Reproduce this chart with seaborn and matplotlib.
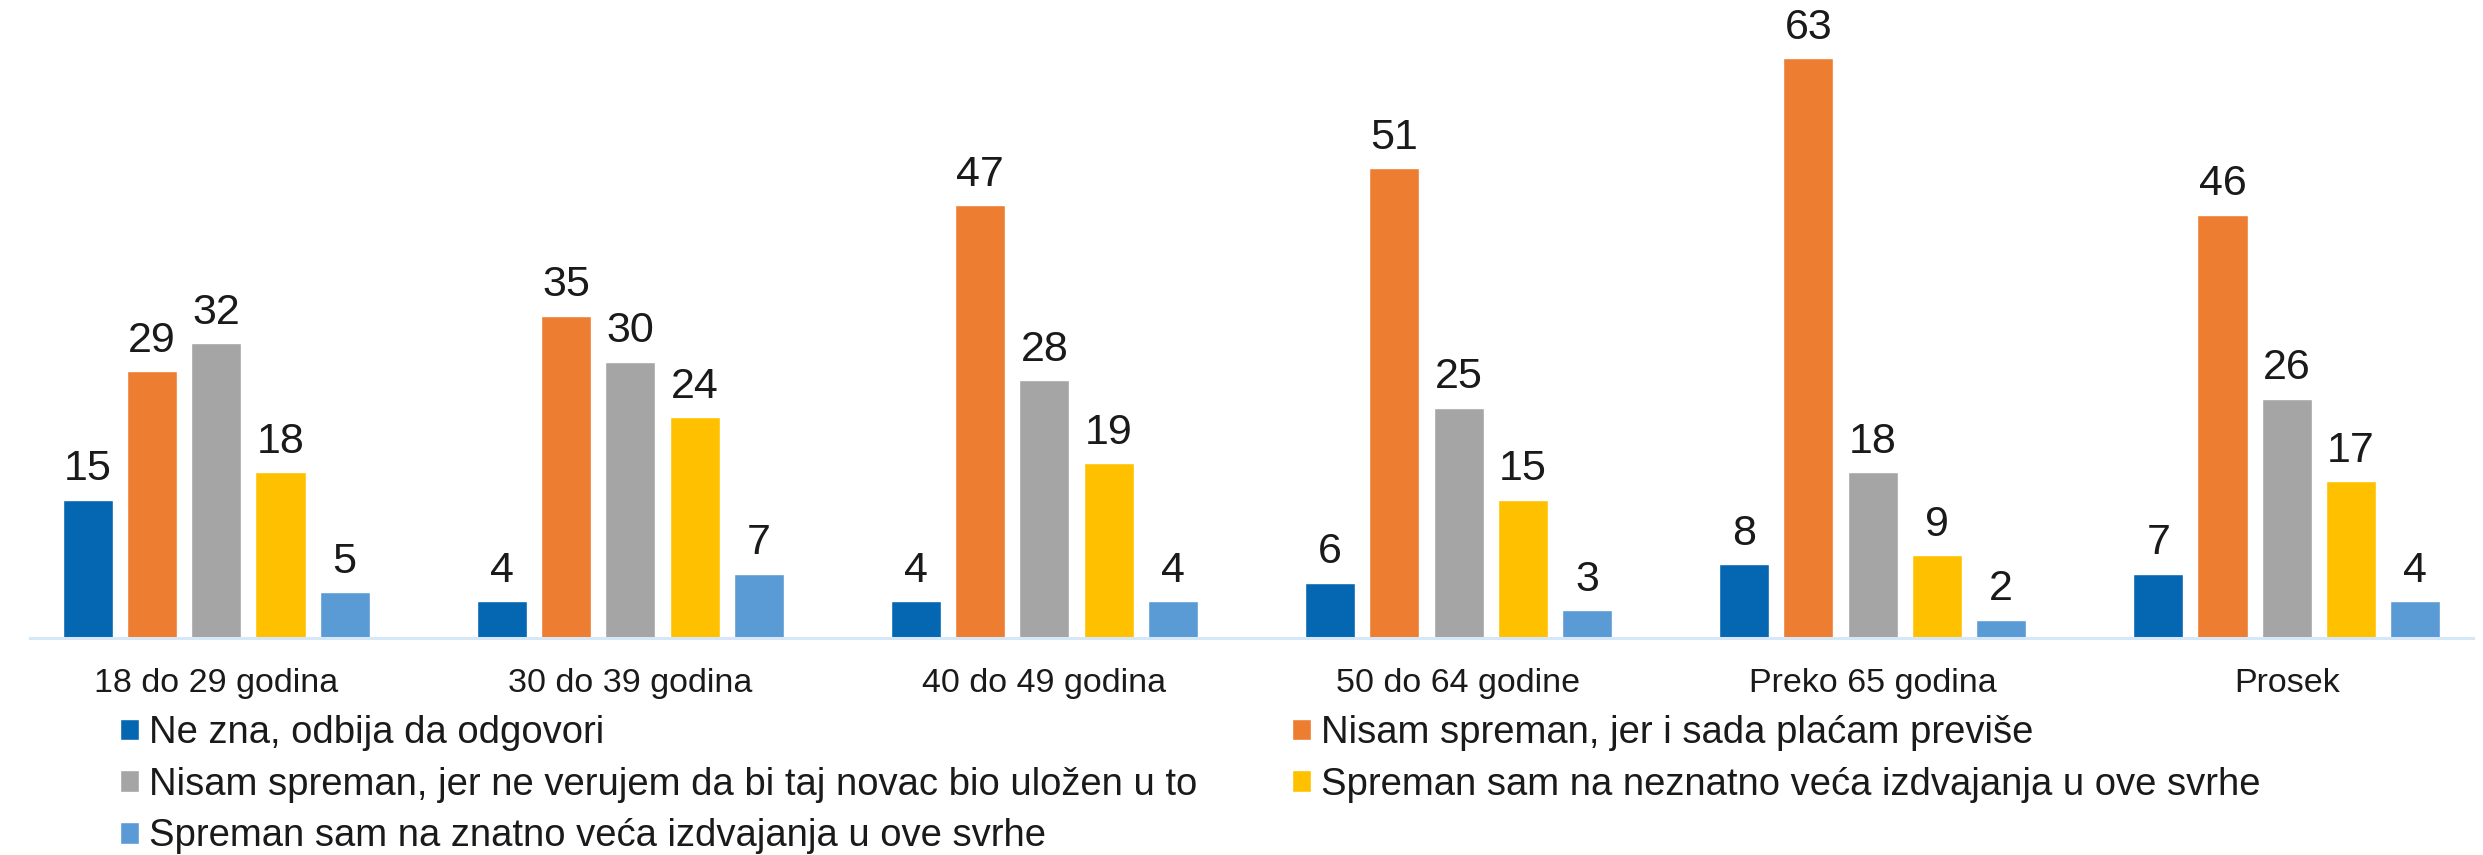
import pandas as pd
import seaborn as sns
import matplotlib.pyplot as plt

# ---------------------------------------------------------------------
# Data (in %)
# ---------------------------------------------------------------------
groups = ["18 do 29 godina", "30 do 39 godina", "40 do 49 godina",
          "50 do 64 godine", "Preko 65 godina", "Prosek"]

answers = [
    "Ne zna, odbija da odgovori",
    "Nisam spreman, jer i sada plaćam previše",
    "Nisam spreman, jer ne verujem da bi taj novac bio uložen u to",
    "Spreman sam na neznatno veća izdvajanja u ove svrhe",
    "Spreman sam na znatno veća izdvajanja u ove svrhe",
]

ne_zna        = [15, 4, 4, 6, 8, 7]
previse       = [29, 35, 47, 51, 63, 46]
ne_verujem    = [32, 30, 28, 25, 18, 26]
neznatno_vise = [18, 24, 19, 15, 9, 17]
znatno_vise   = [5, 7, 4, 3, 2, 4]

colors = ["#0567B1", "#ED7D31", "#A5A5A5", "#FFC000", "#5B9BD5"]

series = [ne_zna, previse, ne_verujem, neznatno_vise, znatno_vise]
df = pd.DataFrame(
    [(g, a, v) for a, vals in zip(answers, series) for g, v in zip(groups, vals)],
    columns=["grupa", "odgovor", "procenat"],
)

# ---------------------------------------------------------------------
# Plot
# ---------------------------------------------------------------------
sns.set_style("white")
plt.rcParams["font.family"] = ["Liberation Sans", "DejaVu Sans"]
TXT = "#1a1a1a"

fig = plt.figure(figsize=(24.83, 8.55), dpi=100)
ax = fig.add_axes([30 / 2483, 1 - 638 / 855, 2443 / 2483, 638 / 855])

sns.barplot(data=df, x="grupa", y="procenat", hue="odgovor",
            order=groups, hue_order=answers, palette=colors,
            width=0.775, gap=0.22, saturation=1, legend=False, ax=ax)

for cont in ax.containers:
    ax.bar_label(cont, fmt="%d", padding=7.5, fontsize=31, color=TXT)

ax.set_xlim(-0.45, 5.45)
ax.set_ylim(0, 69.3)
ax.set_xlabel("")
ax.set_ylabel("")
ax.set_yticks([])
ax.tick_params(axis="x", length=0, pad=21.5, labelsize=24.5, labelcolor=TXT)
for side in ["top", "left", "right"]:
    ax.spines[side].set_visible(False)
ax.spines["bottom"].set_color("#D6E8F7")
ax.spines["bottom"].set_linewidth(2.2)

# legend laid out in two columns, row by row
handles = [cont.patches[0] for cont in ax.containers]
leg_kw = dict(frameon=False, loc="upper left", fontsize=27.5,
              handlelength=0.5, handleheight=0.5, handletextpad=0.27,
              labelspacing=0.41, borderpad=0, borderaxespad=0,
              labelcolor=TXT, bbox_transform=fig.transFigure)
fig.legend([handles[i] for i in (0, 2, 4)], [answers[i] for i in (0, 2, 4)],
           bbox_to_anchor=(120 / 2483, 1 - 715 / 855), **leg_kw)
fig.legend([handles[i] for i in (1, 3)], [answers[i] for i in (1, 3)],
           bbox_to_anchor=(1292 / 2483, 1 - 715 / 855), **leg_kw)

fig.savefig("out.png", dpi=100)
